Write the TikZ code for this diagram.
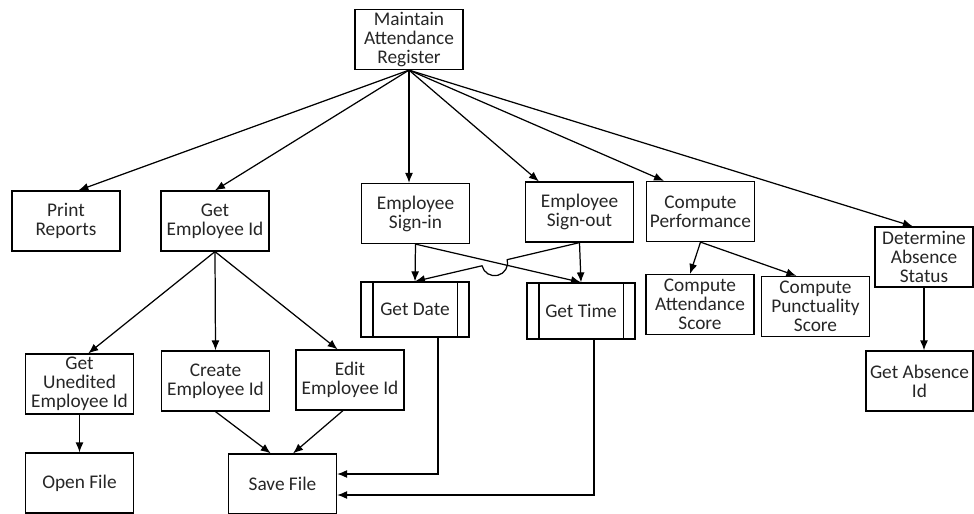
\documentclass[tikz,border=0pt]{standalone}
\usepackage{fontspec}
\setmainfont{Carlito}
\usetikzlibrary{arrows.meta,calc}
\tikzset{
  box/.style={draw,rectangle,align=center,minimum width=2.16cm,minimum height=1.2cm,inner sep=1pt,
    font=\fontsize{11}{10.8}\selectfont,text=black!85},
  link/.style={line width=0.7pt,->,>={Latex[length=2mm,width=1.6mm]}}
}
\newcommand{\task}[4]{\node[box] (#1) at (#2,#3) {#4};}
\newcommand{\proc}[1]{\draw ([xshift=0.25cm]#1.north west) -- ([xshift=0.25cm]#1.south west);
  \draw ([xshift=-0.25cm]#1.north east) -- ([xshift=-0.25cm]#1.south east);}
\newcommand{\link}[2]{\draw[link] (#1) -- (#2);}

\begin{document}
\begin{tikzpicture}[line width=0.7pt]
    \useasboundingbox (0,0) rectangle (19.48,-10.28);
    \task{root}{8.18}{-0.79}{Maintain\\Attendance\\Register}
    \task{print}{1.32}{-4.42}{Print\\Reports}   \task{getid}{4.30}{-4.42}{Get\\Employee Id}
    \task{signin}{8.31}{-4.27}{Employee\\Sign-in}   \task{signout}{11.59}{-4.24}{Employee\\Sign-out}
    \task{perf}{14.01}{-4.23}{Compute\\Performance}
    \node[box,minimum width=1.96cm] (determine) at (18.48,-5.14) {Determine\\Absence\\Status};
    \task{unedited}{1.59}{-7.68}{Get\\Unedited\\Employee Id}
    \task{create}{4.31}{-7.62}{Create\\Employee Id}   \task{edit}{7.00}{-7.60}{Edit\\Employee Id}
    \task{open}{1.59}{-9.66}{Open File}   \task{save}{5.65}{-9.68}{Save File}
    \node[box,minimum height=1.1cm] (date) at (8.30,-6.19) {Get Date};   \proc{date}
    \node[box,minimum height=1.12cm] (time) at (11.62,-6.22) {Get Time};   \proc{time}
    \task{attend}{14.00}{-6.09}{Compute\\Attendance\\Score}
    \task{punct}{16.31}{-6.13}{Compute\\Punctuality\\Score}
    \node[box,minimum width=2.14cm] (absence) at (18.39,-7.62) {Get Absence\\Id};

    % from the root
    \link{root.south}{print.68}\link{root.south}{getid.north}
    \link{root.south}{root.south |- signin.north}\link{root.south}{signout.143}
    \link{root.south}{perf.140}\link{root.south}{determine.110}
    % employee id
    \link{getid.south}{unedited.74}\link{getid.south}{create.north}\link{getid.south}{edit.112}
    \link{unedited.south}{open.north}
    \link{create.south}{save.111}\link{edit.257}{save.71}
    % sign in / out
    \link{signin.south}{date.north}\link{signin.south}{time.north}
    \link{signout.south}{time.north}
    \coordinate (hopR) at ($(signout.south)!0.439!(date.north)$);
    \coordinate (hopL) at ($(signout.south)!0.593!(date.north)$);
    \draw[link] (signout.south) -- (hopR) arc[start angle=13.67,end angle=-166.33,radius=0.26cm] -- (date.north);
    \draw[link] ($(date.south)+(0.46,0)$) |- ($(save.east)+(0,0.2)$);
    \draw[link] ($(time.south)+(0.26,0)$) |- ($(save.east)+(0,-0.22)$);
    % performance and absence
    \link{perf.south}{attend.108}\link{perf.south}{punct.122}
    \link{determine.south}{determine.south |- absence.north}
\end{tikzpicture}
\end{document}
